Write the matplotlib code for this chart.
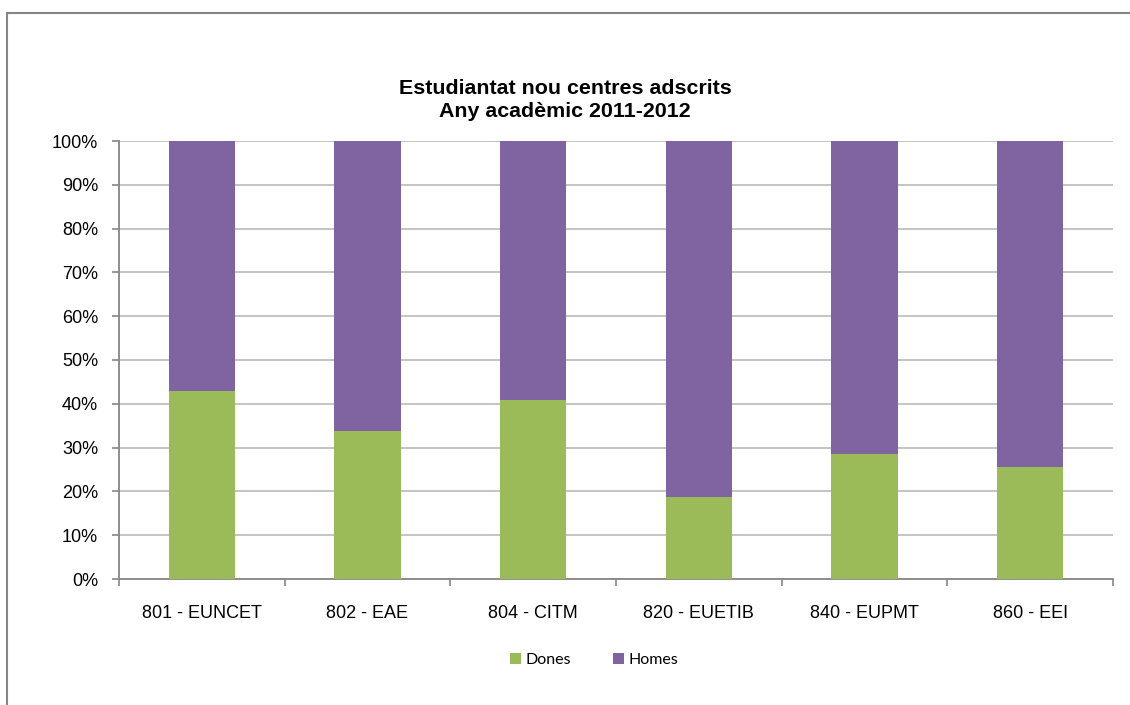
import matplotlib
matplotlib.use("Agg")
import matplotlib.pyplot as plt
from matplotlib.patches import Rectangle
import numpy as np

categories = ["801 - EUNCET", "802 - EAE", "804 - CITM", "820 - EUETIB", "840 - EUPMT", "860 - EEI"]
dones = [42.9, 33.8, 40.9, 18.8, 28.5, 25.6]
homes = [100 - d for d in dones]
yticks = [0, 10, 20, 30, 40, 50, 60, 70, 80, 90, 100]
title = "Estudiantat nou centres adscrits\nAny acadèmic 2011-2012"

green = "#9BBB59"
purple = "#8064A2"

W, H = 1130, 705
fig = plt.figure(figsize=(W/100, H/100), dpi=100)
fig.patch.set_facecolor("white")

# outer frame
fig.patches.append(Rectangle((7/W, -0.05), 1.2, 1 - 13/H + 0.05, transform=fig.transFigure,
                             fill=False, edgecolor="#868686", linewidth=1.5))

ax = fig.add_axes([119/W, 1 - 579/H, (1113-119)/W, (579-141)/H])
x = np.arange(len(categories))
ax.bar(x, dones, width=0.4, color=green, zorder=3, label="Dones")
ax.bar(x, homes, bottom=dones, width=0.4, color=purple, zorder=3, label="Homes")

ax.set_xlim(-0.5, len(categories) - 0.5)
ax.set_ylim(0, 100)
ax.set_yticks(yticks)
ax.set_yticklabels([f"{t}%" for t in yticks], fontsize=13, family="Liberation Sans")
ax.yaxis.grid(True, color="#BFBFBF", linewidth=1.3, zorder=0)
ax.set_xticks(x)
ax.set_xticklabels(categories, fontsize=13, family="Liberation Sans")
ax.tick_params(axis="x", length=0, pad=19)
ax.set_xticks(np.arange(-0.5, len(categories)), minor=True)
ax.tick_params(axis="x", which="minor", length=5, width=1.2, color="#868686")
ax.tick_params(axis="y", length=5, width=1.2, color="#868686", pad=10)
for s in ["top", "right"]:
    ax.spines[s].set_visible(False)
for s in ["left", "bottom"]:
    ax.spines[s].set_color("#868686")
    ax.spines[s].set_linewidth(1.3)

fig.text(0.5, 1 - 100/H, title, ha="center", va="center", fontsize=15.4, fontweight="bold",
         family="Liberation Sans", linespacing=1.25)

leg = fig.legend(loc="center", bbox_to_anchor=(594/W, 1 - 660/H), ncol=2, frameon=False,
                 prop={"family": "Lato", "size": 11.5}, handlelength=0.7, handleheight=0.7,
                 handletextpad=0.3, columnspacing=2.6)

fig.savefig("out.png", dpi=100)
